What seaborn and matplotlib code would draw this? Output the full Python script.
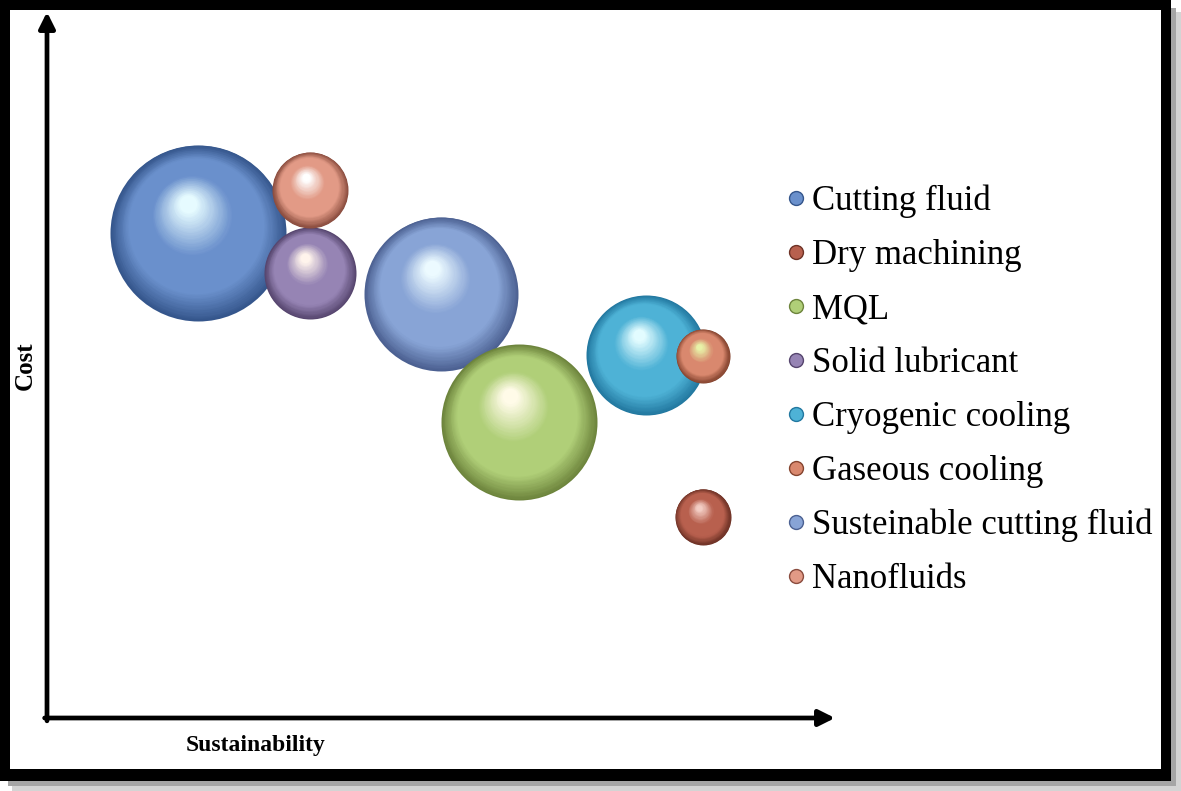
import numpy as np
import matplotlib
matplotlib.use("Agg")
import matplotlib.pyplot as plt
import seaborn as sns
import pandas as pd
from matplotlib.colors import LinearSegmentedColormap
from matplotlib import transforms
from matplotlib.patches import Rectangle
from matplotlib.lines import Line2D

# ---------------- data ----------------
categories = ["Cutting fluid", "Dry machining", "MQL", "Solid lubricant",
              "Cryogenic cooling", "Gaseous cooling",
              "Susteinable cutting fluid", "Nanofluids"]
sustainability = [1.92, 8.32, 5.99, 3.34, 7.60, 8.32, 5.00, 3.34]
cost = [6.87, 2.85, 4.19, 6.30, 5.14, 5.13, 6.01, 7.48]
bubble_size = [88, 28, 78, 46, 60, 27, 77, 38]   # relative bubble radius

base_colors = ["#6a90cc", "#b8604e", "#b0cf78", "#9684b4",
               "#4eb2d6", "#d9886e", "#88a4d6", "#e29a86"]
dark_colors = ["#35568c", "#6e3226", "#6d843c", "#56456e",
               "#2278a0", "#85442f", "#4c6192", "#8a4c3e"]
light_colors = ["#e6fbff", "#f3cdc4", "#fffbe8", "#fff4ec",
                "#e2fcff", "#e8f2a8", "#ecfaff", "#ffffff"]
draw_order = ["Cutting fluid", "Susteinable cutting fluid", "MQL",
              "Cryogenic cooling", "Solid lubricant", "Nanofluids",
              "Dry machining", "Gaseous cooling"]

df = pd.DataFrame({"Category": categories, "Sustainability": sustainability,
                   "Cost": cost, "Size": bubble_size})

W, H, DPI = 1181, 791, 100
sns.set_theme(style="white")
plt.rcParams["font.family"] = ["Liberation Serif", "DejaVu Serif"]
plt.rcParams["text.color"] = "black"
fig = plt.figure(figsize=(W / DPI, H / DPI), dpi=DPI)
fig.patch.set_facecolor("white")

# ---------------- frame with shadow ----------------
def px_rect(x0, y0_top, w, h, color, z):
    fig.patches.append(Rectangle((x0 / W, 1 - (y0_top + h) / H), w / W, h / H,
                                 transform=fig.transFigure, color=color,
                                 zorder=z, lw=0))
px_rect(12, 12, 1169, 779, "#d4d4d4", -10)
px_rect(8, 8, 1168, 778, "#a6a6a6", -9)
px_rect(0, 0, 1171, 781, "#000000", -8)
px_rect(10, 10, 1151, 759, "#ffffff", -7)

# ---------------- axes ----------------
ax = fig.add_axes([47 / W, 73 / H, (835 - 47) / W, (718 - 12) / H])
ax.set_xlim(0, 10)
ax.set_ylim(0, 10)
ax.patch.set_alpha(0)
for sp in ax.spines.values():
    sp.set_visible(False)
ax.set_xticks([])
ax.set_yticks([])

arrow_kw = dict(arrowstyle="-|>", lw=3.4, color="black", mutation_scale=24,
                shrinkA=0, shrinkB=0)
ax.annotate("", xy=(1, 0), xytext=(-0.003, 0), xycoords="axes fraction",
            arrowprops=arrow_kw, annotation_clip=False)
ax.annotate("", xy=(0, 1), xytext=(0, -0.004), xycoords="axes fraction",
            arrowprops=arrow_kw, annotation_clip=False)

fig.text(256 / W, 1 - 745 / H, "Sustainability", ha="center", va="center",
         fontsize=17, fontweight="bold", color="black",
         family=["Liberation Serif"])
fig.text(25 / W, 1 - 366 / H, "Cost", ha="center", va="center", rotation=90,
         fontsize=18, fontweight="bold", color="black",
         family=["Liberation Serif"])

# ---------------- shaded spheres ----------------
N = 60
for k_order, name in enumerate(draw_order):
    i = categories.index(name)
    sub = df[df["Category"] == name]
    R = bubble_size[i]
    cmap = LinearSegmentedColormap.from_list(
        name, [(0.0, dark_colors[i]), (0.25, base_colors[i]),
               (0.6, base_colors[i]), (1.0, light_colors[i])])
    zbase = 3 + k_order
    d_pt = 2 * R * 72 / DPI
    sns.scatterplot(data=sub, x="Sustainability", y="Cost", ax=ax,
                    color=dark_colors[i], s=d_pt ** 2, linewidth=0,
                    legend=False, zorder=zbase)
    for k in range(1, N):
        t = k / (N - 1)
        r = R * (1 - 0.9 * t)
        col = cmap(t)
        dx = -0.12 * R * t
        dy = 0.33 * R * t
        tr = transforms.offset_copy(ax.transData, fig=fig, x=dx, y=dy,
                                    units="dots")
        ax.scatter(sub["Sustainability"], sub["Cost"], s=(2 * r * 72 / DPI) ** 2,
                   color=col, linewidths=0, transform=tr, zorder=zbase)

ax.set_xlabel("")
ax.set_ylabel("")

# ---------------- legend ----------------
handles = [Line2D([0], [0], marker="o", linestyle="none", markersize=10,
                  markerfacecolor=base_colors[i], markeredgecolor=dark_colors[i],
                  markeredgewidth=1.0) for i in range(len(categories))]
leg = fig.legend(handles, categories, loc="upper left",
                 bbox_to_anchor=(786 / W, 1 - 185 / H), frameon=False,
                 fontsize=25, labelspacing=0.6, handletextpad=0.2,
                 handlelength=0.55, borderaxespad=0, borderpad=0)
for txt in leg.get_texts():
    txt.set_color("black")

fig.savefig("out.png", dpi=DPI, facecolor="white")
